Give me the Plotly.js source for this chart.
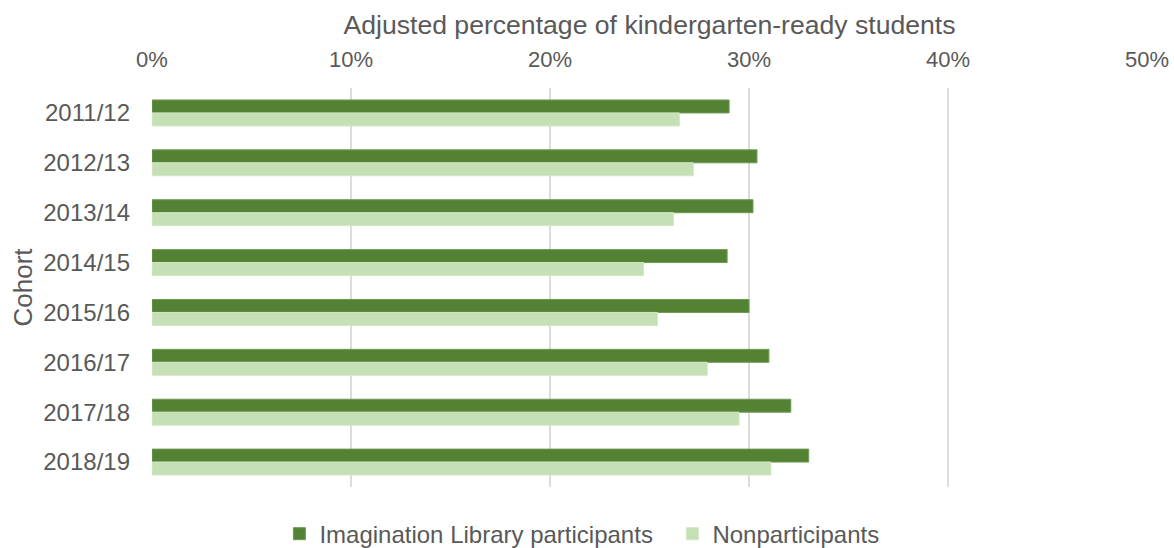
<!DOCTYPE html>
<html><head><meta charset="utf-8">
<script src="https://cdn.plot.ly/plotly-3.0.1.min.js"></script>
<style>html,body{margin:0;padding:0;background:#fff}#chart{width:1174px;height:548px}</style>
</head><body><div id="chart"></div>
<script>
const cohorts = ["2011/12","2012/13","2013/14","2014/15","2015/16","2016/17","2017/18","2018/19"];
const participants = [0.290,0.304,0.302,0.289,0.300,0.310,0.321,0.330];
const nonparticipants = [0.265,0.272,0.262,0.247,0.254,0.279,0.295,0.311];
const seriesNames = ["Imagination Library participants","Nonparticipants"];
const xTitle = "Adjusted percentage of kindergarten-ready students";
const yTitle = "Cohort";

const font = {family:"Arial, 'Liberation Sans', sans-serif", color:"#595959"};
const data = [
  {type:"bar", orientation:"h", name:seriesNames[0], y:cohorts, x:participants,
   marker:{color:"#548235", line:{color:"#6f9a52", width:1}}, hoverinfo:"x+y"},
  {type:"bar", orientation:"h", name:seriesNames[1], y:cohorts, x:nonparticipants,
   marker:{color:"#c5e0b4", line:{color:"#d2e7c5", width:1}}, hoverinfo:"x+y"}
];
const layout = {
  width:1174, height:548,
  margin:{l:152, r:27, t:88, b:61, autoexpand:false},
  paper_bgcolor:"#fff", plot_bgcolor:"#fff",
  font:Object.assign({size:22}, font),
  barmode:"group", bargap:0.48, bargroupgap:0,
  showlegend:true,
  legend:{orientation:"h", x:0.523, xanchor:"center", y:-0.118, yanchor:"middle",
          font:Object.assign({size:24}, font), traceorder:"normal", itemwidth:30,
          entrywidth:348},
  xaxis:{side:"top", range:[0,0.5], dtick:0.1, tickformat:".0%",
         showgrid:true, gridcolor:"#dcdcdc", gridwidth:2, zeroline:false, showline:false,
         ticks:"", ticklabelstandoff:16, tickfont:Object.assign({size:22}, font),
         title:{text:xTitle, font:Object.assign({size:26.6}, font), standoff:4},
         fixedrange:true},
  yaxis:{autorange:"reversed", type:"category", showgrid:false, zeroline:false, showline:false,
         ticks:"", ticklabelstandoff:21, tickfont:Object.assign({size:24}, font),
         title:{text:yTitle, font:Object.assign({size:26}, font), standoff:3},
         fixedrange:true}
};
Plotly.newPlot("chart", data, layout, {displayModeBar:false, staticPlot:true});
</script></body></html>
